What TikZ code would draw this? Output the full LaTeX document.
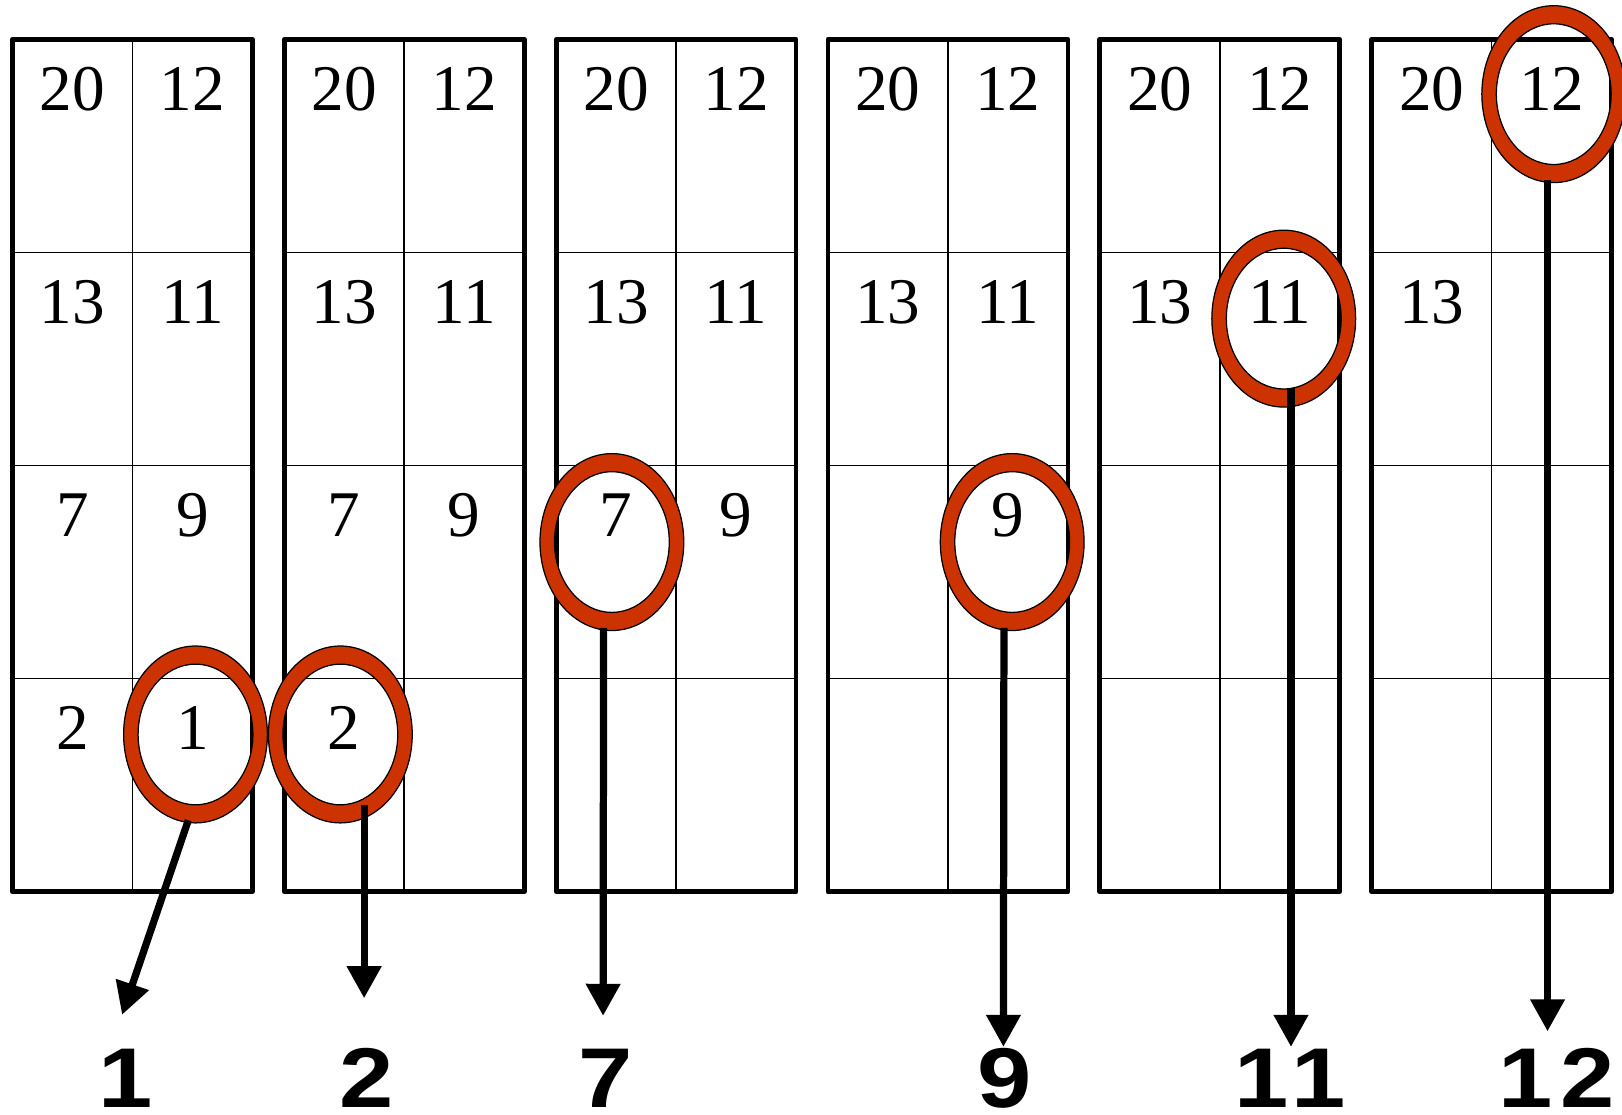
\documentclass[tikz,border=0pt]{standalone}
\usepackage{fontspec}
\setmainfont{Liberation Serif}
\newfontfamily\labfont[FakeStretch=1.15,LetterSpace=10]{Liberation Sans}
\usetikzlibrary{arrows.meta,shapes.geometric,calc}
\definecolor{ringred}{RGB}{204,51,0}
\begin{document}
\begin{tikzpicture}[x=1pt,y=-1pt,
  frame/.style={line width=4.6pt, line join=round},
  gridline/.style={line width=1.5pt},
  cellnum/.style={font=\fontsize{63}{63}\selectfont, inner sep=0pt, anchor=base},
  ringspot/.style={ellipse, minimum width=139pt, minimum height=171pt, inner sep=0pt, draw=none},
  ringfill/.style={fill=ringred, draw=black, line width=1.2pt, even odd rule},
  outlab/.style={font=\labfont\bfseries\fontsize{82}{82}\selectfont, anchor=base, inner sep=0pt},
  pick/.style={line width=7pt, -{Triangle[width=32pt,length=31pt]}}
]
\useasboundingbox (0,0) rectangle (1568,1077);
% grids
\foreach \g in {0,...,5}{
  \pgfmathsetmacro\gx{12+262.8*\g}
  \draw[gridline] (\gx+116,38) -- (\gx+116,862);
  \foreach \r in {1,2,3}{
    \draw[gridline] (\gx,38+206*\r) -- (\gx+232,38+206*\r);
  }
  \draw[frame] (\gx,38) rectangle (\gx+232,862);
}
% cell numbers
\foreach \g/\r/\c/\t in {0/0/0/20,0/0/1/12,0/1/0/13,0/1/1/11,0/2/0/7,0/2/1/9,0/3/0/2,0/3/1/1,
  1/0/0/20,1/0/1/12,1/1/0/13,1/1/1/11,1/2/0/7,1/2/1/9,1/3/0/2,
  2/0/0/20,2/0/1/12,2/1/0/13,2/1/1/11,2/2/0/7,2/2/1/9,
  3/0/0/20,3/0/1/12,3/1/0/13,3/1/1/11,3/2/1/9,
  4/0/0/20,4/0/1/12,4/1/0/13,4/1/1/11,
  5/0/0/20,5/0/1/12,5/1/0/13}{
  \node[cellnum] (n-\g-\r-\c) at ({12+262.8*\g+58+116*\c},{38+206*\r+69}) {\t};
}
% rings
\node[ringspot] (e1) at (189,710) {};
\node[ringspot] (e2) at (329,710) {};
\node[ringspot] (e3) at (591.5,524) {};
\node[ringspot] (e4) at (978.5,524) {};
\node[ringspot] (e5) at (1241,308) {};
\node[ringspot] (e6) at (1502,91) {};
\foreach \e in {e1,e2,e3,e4,e5,e6}{
  \path[ringfill] (\e.center) ellipse [x radius=69.5, y radius=85.5]
                  (\e.center) ellipse [x radius=55.5, y radius=68];
}
% output labels
\node[outlab] (l1) at (121,1071) {1};
\node[outlab] (l2) at (354,1071) {2};
\node[outlab] (l3) at (585,1071) {7};
\node[outlab] (l4) at (971,1071) {9};
\node[outlab] (l5) at (1247,1071) {11};
\node[outlab] (l6) at (1505,1071) {12};
% arrow tips
\coordinate (t1) at (118,981);
\coordinate (t2) at (352,965);
\coordinate (t3) at (583,982);
\coordinate (t4) at (970,1012);
\coordinate (t5) at (1248,1012);
\coordinate (t6) at (1496,997);
% arrows
\draw[pick] ([shift={(-7,83)}]e1.center) -- (t1);
\draw[pick] ([shift={(23,68)}]e2.center) -- (t2);
\draw[pick] ([shift={(-8,83)}]e3.center) -- (t3);
\draw[pick] ([shift={(-8,83)}]e4.center) -- (t4);
\draw[pick] ([shift={(7,67)}]e5.center) -- (t5);
\draw[pick] ([shift={(-6,83)}]e6.center) -- (t6);
\end{tikzpicture}
\end{document}
